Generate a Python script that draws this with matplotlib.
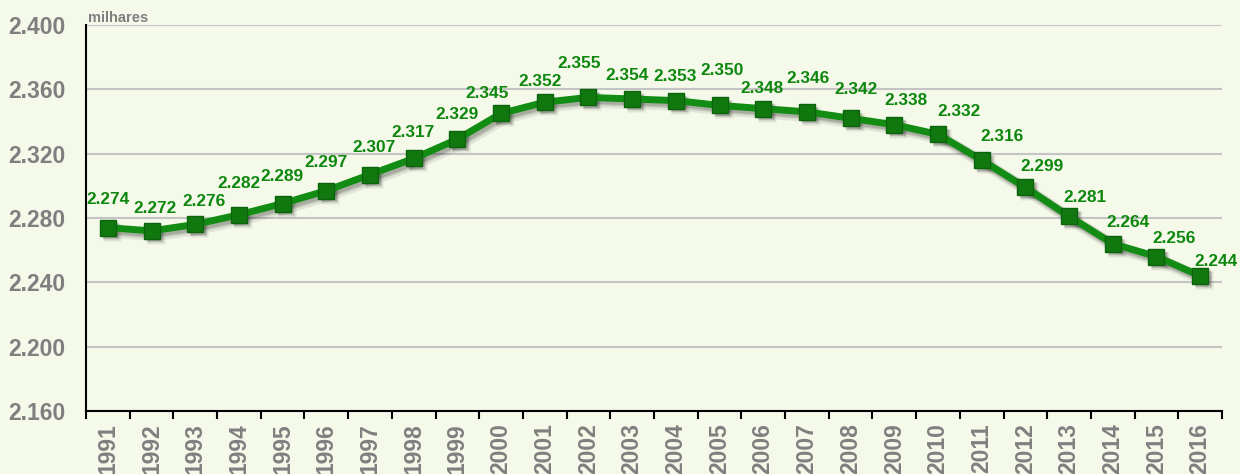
import matplotlib
matplotlib.use("Agg")
import matplotlib.pyplot as plt
import matplotlib.transforms as mtransforms
import numpy as np

years = [str(y) for y in range(1991, 2017)]
values = [2.274, 2.272, 2.276, 2.282, 2.289, 2.297, 2.307, 2.317, 2.329, 2.345,
          2.352, 2.355, 2.354, 2.353, 2.350, 2.348, 2.346, 2.342, 2.338, 2.332,
          2.316, 2.299, 2.281, 2.264, 2.256, 2.244]
labels = [f"{v:.3f}" for v in values]
yticks = [2.160, 2.200, 2.240, 2.280, 2.320, 2.360, 2.400]

# label placement offsets (pixels, from the point to label centre)
label_dx = [0, 3, 9, 0, -1, 0, 4, -1, 0, -14, -5, -9, -5, -1, 3, -1,
            1, 5, 12, 21, 20, 17, 16, 15, 18, 16]
label_dy = [28, 22, 23, 31, 27, 28, 27, 26, 25, 20, 21, 34, 23, 24, 35, 20,
            33, 29, 24, 23, 24, 21, 19, 21, 18, 14]

bg = "#F5F9EA"
green = "#0E870E"
grey = "#7F7F7F"

fig = plt.figure(figsize=(12.4, 4.74), dpi=100, facecolor=bg)
ax = fig.add_axes([86/1240, 1 - 411/474, (1222-86)/1240, (411-25)/474])
ax.set_facecolor(bg)

x = np.arange(len(years))
# soft drop shadow
for off, a, w in [(4, 0.08, 9), (3, 0.12, 7), (2.5, 0.15, 5.5)]:
    tr = mtransforms.offset_copy(ax.transData, fig=fig, x=off, y=-off, units="dots")
    ax.plot(x, values, color="black", alpha=a, lw=w, marker="s", ms=11 + (w - 5) * 0.5,
            mec="none", transform=tr, zorder=2, solid_joinstyle="round")
ax.plot(x, values, color="#128C12", lw=5, marker="s", ms=11, mfc="#11780F", mec="#0B630B",
        zorder=3)

for xi, v, lab, dx, dy in zip(x, values, labels, label_dx, label_dy):
    ax.annotate(lab, (xi, v), xytext=(dx * 0.72, dy * 0.72), textcoords="offset points",
                ha="center", va="center", color=green, fontsize=12.4, fontweight="bold",
                fontfamily="Liberation Sans", zorder=4)

ax.set_xlim(-0.5, len(years) - 0.5)
ax.set_ylim(2.160, 2.400)
ax.set_yticks(yticks)
ax.set_yticklabels([f"{t:.3f}" for t in yticks], color=grey, fontsize=16.5,
                   fontweight="bold", fontfamily="Liberation Sans")
ax.tick_params(axis="y", length=0, pad=15)
ax.grid(axis="y", color="#C4C4C4", lw=1.5, zorder=0)

ax.set_xticks(x)
ax.set_xticklabels(years, rotation=90, color=grey, fontsize=16.5, fontweight="bold",
                   fontfamily="Liberation Sans", va="top")
ax.tick_params(axis="x", length=0, pad=9)
ax.set_xticks(np.arange(-0.5, len(years)), minor=True)
ax.tick_params(axis="x", which="minor", length=6, width=1.5, color="black")

for s in ["top", "right"]:
    ax.spines[s].set_visible(False)
for s in ["left", "bottom"]:
    ax.spines[s].set_color("black")
    ax.spines[s].set_linewidth(1.5)

fig.text(88/1240, 1 - 18/474, "milhares", color=grey, fontsize=10.5, fontweight="bold",
         fontfamily="Liberation Sans", va="center", ha="left")

fig.savefig("out.png", dpi=100, facecolor=bg)
